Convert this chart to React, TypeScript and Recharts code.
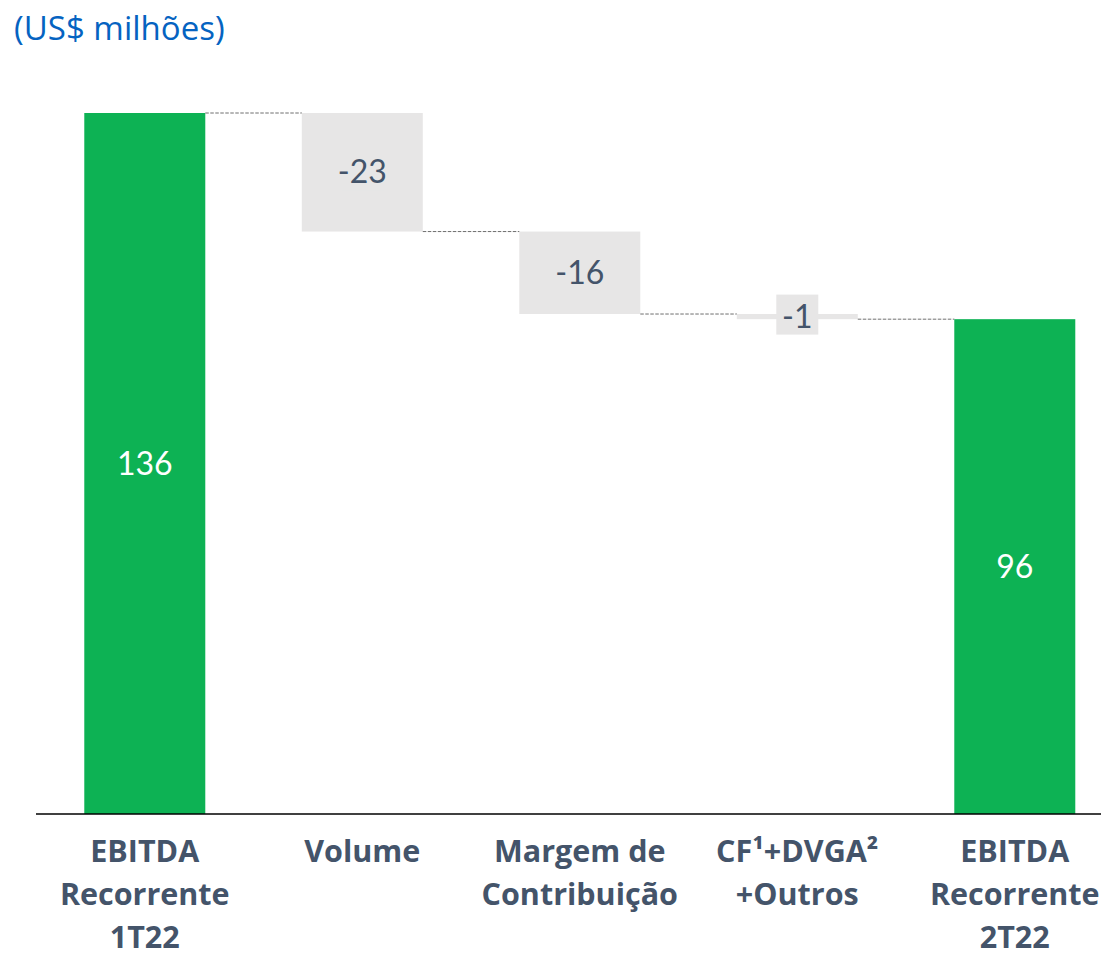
import React from 'react';
import { ComposedChart, Bar, XAxis, YAxis } from 'recharts';

const categories: string[] = [
  'EBITDA|Recorrente|1T22',
  'Volume',
  'Margem de|Contribuição',
  'CF¹+DVGA²|+Outros',
  'EBITDA|Recorrente|2T22',
];
const changes: number[] = [136, -23, -16, -1, 96];
const isTotal: boolean[] = [true, false, false, false, true];
const valueLabels: string[] = ['136', '-23', '-16', '-1', '96'];

const GREEN = '#0DB254';
const GREY = '#E7E6E6';
const TEXT = '#44546A';
const FONT = 'Lato, "Open Sans", sans-serif';
const FONT2 = '"Open Sans", Lato, sans-serif';
const CAT_GAP = 0.222;

let running = 0;
const data = categories.map((name, i) => {
  let base: number;
  let size: number;
  if (isTotal[i]) {
    base = 0;
    size = changes[i];
    running = changes[i];
  } else {
    const start = running;
    const end = running + changes[i];
    base = Math.min(start, end);
    size = Math.abs(changes[i]);
    running = end;
  }
  return { name, base, size, total: isTotal[i], label: valueLabels[i], delta: changes[i], idx: i };
});

const WaterfallShape = (props: any) => {
  const { x, y, width, height, payload } = props;
  const i = payload.idx;
  const gap = (width * 2 * CAT_GAP) / (1 - 2 * CAT_GAP);
  const cx = x + width / 2;
  const cy = y + height / 2;
  const endY = payload.total ? y : payload.delta < 0 ? y + height : y;
  const fill = payload.total ? GREEN : GREY;
  const showConnector = i < data.length - 1;
  return (
    <g>
      <rect x={x} y={y} width={width} height={height} fill={fill} />
      {showConnector && (
        <line x1={x + width} x2={x + width + gap} y1={endY} y2={endY} stroke="#6F6F6F" strokeWidth={1} strokeDasharray="3.5 1.5" />
      )}
      {!payload.total && <rect x={cx - 21} y={cy - 22} width={42} height={40} fill={GREY} />}
      <text x={cx} y={cy} dy={11} textAnchor="middle" fontFamily={FONT} fontSize={32} fill={payload.total ? '#FFFFFF' : TEXT}>
        {payload.label}
      </text>
    </g>
  );
};

const CategoryTick = (props: any) => {
  const { x, y, payload } = props;
  const lines = String(payload.value).split('|');
  return (
    <text x={x} y={y} textAnchor="middle" fontFamily={FONT2} fontWeight={700} fontSize={30.5} fill={TEXT}>
      {lines.map((l, k) => (
        <tspan key={k} x={x} y={y + 48 + k * 43}>
          {l}
        </tspan>
      ))}
    </text>
  );
};

export default function App() {
  return (
    <div style={{ position: 'absolute', left: 0, top: 0, width: 1101, height: 955, background: '#fff' }}>
      <div
        style={{
          position: 'absolute',
          left: 14,
          top: 6,
          fontFamily: FONT2,
          fontSize: 33,
          color: '#0563C1',
          lineHeight: '44px',
        }}
      >
        (US$ milhões)
      </div>
      <ComposedChart
        width={1101}
        height={955}
        data={data}
        margin={{ top: 113, right: 0, bottom: 11, left: 36 }}
        barCategoryGap={`${CAT_GAP * 100}%`}
      >
        <YAxis hide width={0} domain={[0, 136]} />
        <XAxis
          dataKey="name"
          height={130}
          tickLine={false}
          tickSize={0}
          tickMargin={0}
          interval={0}
          padding={{ left: 0, right: -22.5 }}
          axisLine={{ stroke: '#000000', strokeWidth: 1.5 }}
          tick={<CategoryTick />}
        />
        <Bar dataKey="base" stackId="a" fill="transparent" isAnimationActive={false} />
        <Bar dataKey="size" stackId="a" isAnimationActive={false} shape={<WaterfallShape />} />
      </ComposedChart>
    </div>
  );
}
